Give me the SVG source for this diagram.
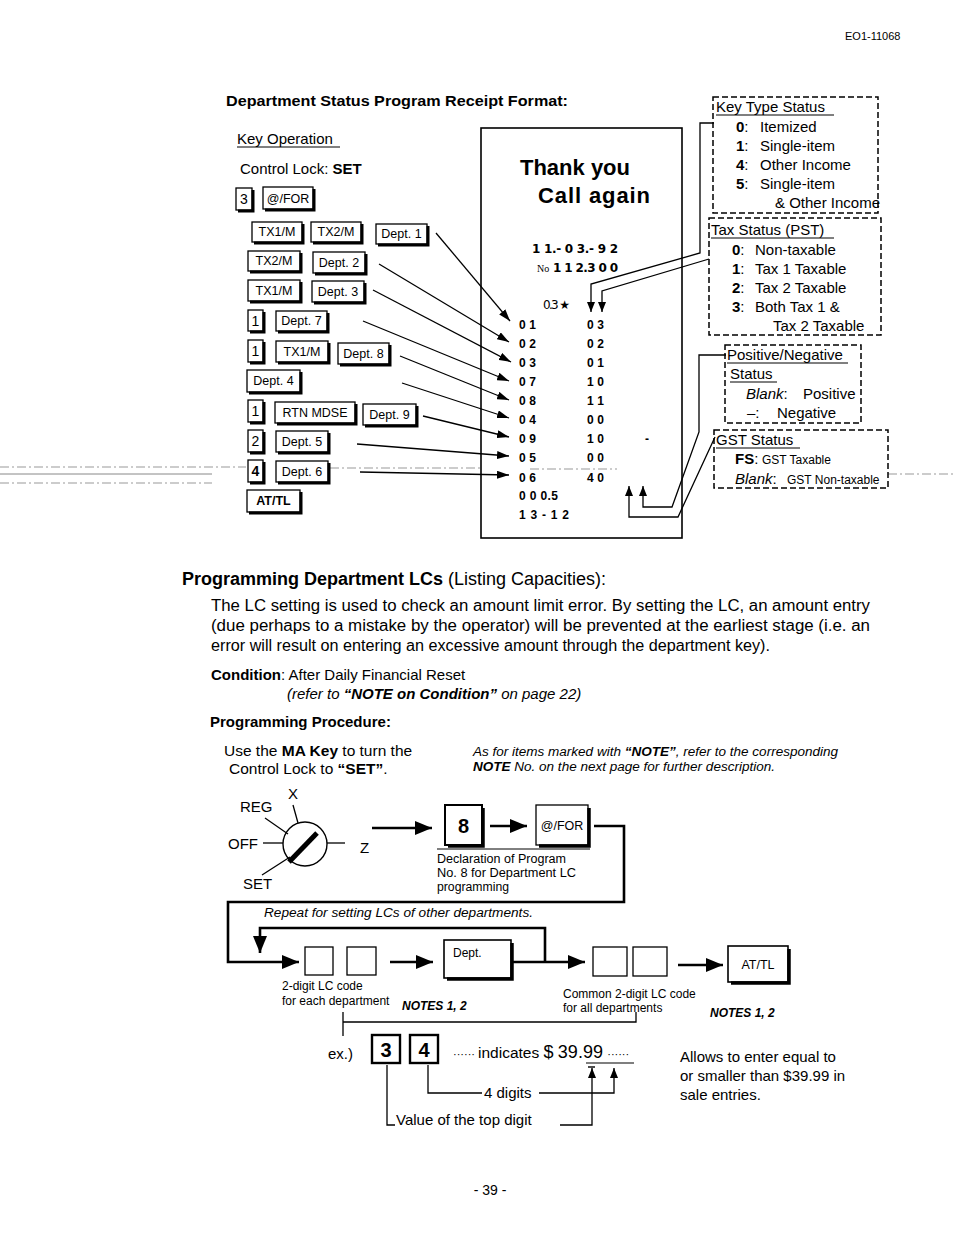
<svg xmlns="http://www.w3.org/2000/svg" width="954" height="1239" viewBox="0 0 954 1239">
<style>
text{font-family:"Liberation Sans",Arial,sans-serif;fill:#000}
.b{font-weight:bold}
.i{font-style:italic}
.k{font-size:12.5px;text-anchor:middle}
.kd{font-size:14px;text-anchor:middle}
.kb{fill:#fff;stroke:#000;stroke-width:1.3}
.ks{fill:none;stroke:#000;stroke-width:3}
.ln{fill:none;stroke:#000;stroke-width:1.3}
.tk{fill:none;stroke:#000;stroke-width:2.6}
.ds{fill:none;stroke:#000;stroke-width:1.5;stroke-dasharray:6 3}
.rc{font-family:"DejaVu Sans",sans-serif;font-weight:bold;font-size:12px}
.s15{font-size:15px}
.art{fill:none;stroke:#999;stroke-width:1;stroke-dasharray:9 3 2 3}
</style>
<defs>
<marker id="ah" markerWidth="13" markerHeight="8" refX="12" refY="4" orient="auto" markerUnits="userSpaceOnUse"><path d="M0,0 L12,4 L0,8 z" fill="#000"/></marker>
<marker id="ah2" markerWidth="11" markerHeight="8" refX="10" refY="4" orient="auto" markerUnits="userSpaceOnUse"><path d="M0,0 L10,4 L0,8 z" fill="#000"/></marker>
<marker id="ahb" markerWidth="18" markerHeight="14" refX="17" refY="7" orient="auto" markerUnits="userSpaceOnUse"><path d="M0,0 L17,7 L0,14 z" fill="#000"/></marker>
</defs>
<rect width="954" height="1239" fill="#fff"/>

<!-- scan artifacts -->
<g id="artifacts">
<line class="art" x1="0" y1="467" x2="246" y2="467"/>
<line x1="0" y1="474" x2="212" y2="474" stroke="#888" stroke-width="1"/>
<line class="art" x1="0" y1="483" x2="212" y2="483"/>
<line class="art" x1="330" y1="468" x2="480" y2="468"/>
<line class="art" x1="530" y1="469" x2="617" y2="469"/>
<line class="art" x1="888" y1="474" x2="954" y2="474"/>
</g>

<text x="845" y="40" style="font-size:11px">EO1-11068</text>

<text x="226" y="106" class="b" style="font-size:14.5px" textLength="342" lengthAdjust="spacingAndGlyphs">Department Status Program Receipt Format:</text>
<text x="237" y="144" class="s15">Key Operation</text>
<line x1="237" y1="147" x2="340" y2="147" stroke="#000" stroke-width="1"/>
<text x="240" y="174" class="s15">Control Lock: <tspan class="b">SET</tspan></text>

<!-- keys -->
<g id="keys">
<g id="k3"><rect class="kb" x="236" y="188" width="16" height="22"/><path class="ks" d="M253,190 V211 H238"/><text class="kd" x="244" y="204">3</text></g>
<g id="kfor"><rect class="kb" x="263" y="187" width="50" height="22"/><path class="ks" d="M314,189 V210 H265"/><text class="k" x="288" y="203">@/FOR</text></g>
<g id="r1a"><rect class="kb" x="252" y="222" width="50" height="20"/><path class="ks" d="M303,224 V243 H254"/><text class="k" x="277" y="236">TX1/M</text></g>
<g id="r1b"><rect class="kb" x="311" y="222" width="50" height="20"/><path class="ks" d="M362,224 V243 H313"/><text class="k" x="336" y="236">TX2/M</text></g>
<g id="r1c"><rect class="kb" x="376" y="224" width="51" height="20"/><path class="ks" d="M428,226 V245 H378"/><text class="k" x="401.5" y="238">Dept. 1</text></g>
<g id="r2a"><rect class="kb" x="248" y="251" width="52" height="20"/><path class="ks" d="M301,253 V272 H250"/><text class="k" x="274" y="265">TX2/M</text></g>
<g id="r2b"><rect class="kb" x="313" y="252" width="52" height="21"/><path class="ks" d="M366,254 V274 H315"/><text class="k" x="339" y="266.5">Dept. 2</text></g>
<g id="r3a"><rect class="kb" x="248" y="280" width="52" height="21"/><path class="ks" d="M301,282 V302 H250"/><text class="k" x="274" y="294.5">TX1/M</text></g>
<g id="r3b"><rect class="kb" x="312" y="281" width="52" height="21"/><path class="ks" d="M365,283 V303 H314"/><text class="k" x="338" y="295.5">Dept. 3</text></g>
<g id="r4a"><rect class="kb" x="248" y="310" width="15" height="21"/><path class="ks" d="M264,312 V332 H250"/><text class="kd" x="255.5" y="325.5">1</text></g>
<g id="r4b"><rect class="kb" x="276" y="311" width="51" height="20"/><path class="ks" d="M328,313 V332 H278"/><text class="k" x="301.5" y="325">Dept. 7</text></g>
<g id="r5a"><rect class="kb" x="248" y="340" width="15" height="22"/><path class="ks" d="M264,342 V363 H250"/><text class="kd" x="255.5" y="356">1</text></g>
<g id="r5b"><rect class="kb" x="276" y="341" width="52" height="21"/><path class="ks" d="M329,343 V363 H278"/><text class="k" x="302" y="355.5">TX1/M</text></g>
<g id="r5c"><rect class="kb" x="338" y="343" width="51" height="21"/><path class="ks" d="M390,345 V365 H340"/><text class="k" x="363.5" y="357.5">Dept. 8</text></g>
<g id="r6"><rect class="kb" x="247" y="370" width="53" height="22"/><path class="ks" d="M301,372 V393 H249"/><text class="k" x="273.5" y="385">Dept. 4</text></g>
<g id="r7a"><rect class="kb" x="248" y="400" width="15" height="22"/><path class="ks" d="M264,402 V423 H250"/><text class="kd" x="255.5" y="416">1</text></g>
<g id="r7b"><rect class="kb" x="275" y="402" width="80" height="21"/><path class="ks" d="M356,404 V424 H277"/><text class="k" x="315" y="416.5">RTN MDSE</text></g>
<g id="r7c"><rect class="kb" x="363" y="404" width="53" height="21"/><path class="ks" d="M417,406 V426 H365"/><text class="k" x="389.5" y="418.5">Dept. 9</text></g>
<g id="r8a"><rect class="kb" x="248" y="430" width="15" height="22"/><path class="ks" d="M264,432 V453 H250"/><text class="kd" x="255.5" y="446">2</text></g>
<g id="r8b"><rect class="kb" x="276" y="431" width="52" height="21"/><path class="ks" d="M329,433 V453 H278"/><text class="k" x="302" y="445.5">Dept. 5</text></g>
<g id="r9a"><rect class="kb" x="248" y="460" width="15" height="22"/><path class="ks" d="M264,462 V483 H250"/><text class="kd b" x="255.5" y="476">4</text></g>
<g id="r9b"><rect class="kb" x="276" y="461" width="52" height="21"/><path class="ks" d="M329,463 V483 H278"/><text class="k" x="302" y="475.5">Dept. 6</text></g>
<g id="r10"><rect class="kb" x="247" y="490" width="53" height="22"/><path class="ks" d="M301,492 V513 H249"/><text class="k b" x="273.5" y="505">AT/TL</text></g>
</g>

<!-- receipt -->
<g id="receipt">
<rect x="481" y="128" width="201" height="410" fill="none" stroke="#000" stroke-width="1.6"/>
<text x="520" y="175" class="b" style="font-size:22px" textLength="110" lengthAdjust="spacingAndGlyphs">Thank you</text>
<text x="538" y="203" class="b" style="font-size:22px" textLength="112">Call  again</text>
<text x="532" y="253" class="rc" textLength="86">1 1.- 0 3.- 9 2</text>
<text x="537" y="272" style="font-family:'Liberation Serif',serif;font-size:10px">No</text>
<text x="553" y="272" class="rc" textLength="65">1 1 2.3 0 0</text>
<text x="543" y="309" class="rc" style="font-weight:normal" textLength="27">0.3 ★</text>
<g class="rc">
<text x="519" y="329" textLength="17">0 1</text><text x="587" y="329" textLength="17">0 3</text>
<text x="519" y="348" textLength="17">0 2</text><text x="587" y="348" textLength="17">0 2</text>
<text x="519" y="367" textLength="17">0 3</text><text x="587" y="367" textLength="17">0 1</text>
<text x="519" y="386" textLength="17">0 7</text><text x="587" y="386" textLength="17">1 0</text>
<text x="519" y="405" textLength="17">0 8</text><text x="587" y="405" textLength="17">1 1</text>
<text x="519" y="424" textLength="17">0 4</text><text x="587" y="424" textLength="17">0 0</text>
<text x="519" y="443" textLength="17">0 9</text><text x="587" y="443" textLength="17">1 0</text>
<text x="645" y="443">-</text>
<text x="519" y="462" textLength="17">0 5</text><text x="587" y="462" textLength="17">0 0</text>
<text x="519" y="482" textLength="17">0 6</text><text x="587" y="482" textLength="17">4 0</text>
<text x="519" y="500" textLength="39">0 0 0.5</text>
<text x="519" y="519" textLength="50">1 3 - 1 2</text>
</g>
</g>

<!-- status boxes -->
<g id="keytype">
<rect class="ds" x="713" y="97" width="165" height="116"/>
<text x="716" y="112" class="s15">Key Type Status</text>
<line x1="716" y1="115" x2="834" y2="115" stroke="#000" stroke-width="1"/>
<text x="736" y="132" class="s15"><tspan class="b">0</tspan>:  <tspan x="760">Itemized</tspan></text>
<text x="736" y="151" class="s15"><tspan class="b">1</tspan>:  <tspan x="760">Single-item</tspan></text>
<text x="736" y="170" class="s15"><tspan class="b">4</tspan>:  <tspan x="760">Other Income</tspan></text>
<text x="736" y="189" class="s15"><tspan class="b">5</tspan>:  <tspan x="760">Single-item</tspan></text>
<text x="775" y="208" class="s15">&amp; Other Income</text>
</g>
<g id="taxstatus">
<rect class="ds" x="709" y="218" width="172" height="117"/>
<text x="711" y="235" class="s15">Tax Status (PST)</text>
<line x1="711" y1="238" x2="834" y2="238" stroke="#000" stroke-width="1"/>
<text x="732" y="255" class="s15"><tspan class="b">0</tspan>:  <tspan x="755">Non-taxable</tspan></text>
<text x="732" y="274" class="s15"><tspan class="b">1</tspan>:  <tspan x="755">Tax 1 Taxable</tspan></text>
<text x="732" y="293" class="s15"><tspan class="b">2</tspan>:  <tspan x="755">Tax 2 Taxable</tspan></text>
<text x="732" y="312" class="s15"><tspan class="b">3</tspan>:  <tspan x="755">Both Tax 1 &amp;</tspan></text>
<text x="773" y="331" class="s15">Tax 2 Taxable</text>
</g>
<g id="posneg">
<rect class="ds" x="725" y="345" width="136" height="78"/>
<text x="727" y="360" class="s15">Positive/Negative</text>
<line x1="727" y1="363" x2="848" y2="363" stroke="#000" stroke-width="1"/>
<text x="730" y="379" class="s15">Status</text>
<line x1="730" y1="382" x2="777" y2="382" stroke="#000" stroke-width="1"/>
<text x="746" y="399" class="s15"><tspan class="i">Blank</tspan>:  <tspan x="803">Positive</tspan></text>
<text x="747" y="418" class="s15">–:  <tspan x="777">Negative</tspan></text>
</g>
<g id="gst">
<rect class="ds" x="714" y="430" width="174" height="58"/>
<text x="716" y="445" class="s15">GST Status</text>
<line x1="716" y1="448" x2="800" y2="448" stroke="#000" stroke-width="1"/>
<text x="735" y="464" class="s15 b">FS<tspan style="font-weight:normal">:</tspan></text>
<text x="762" y="464" style="font-size:12px">GST Taxable</text>
<text x="735" y="484" class="s15"><tspan class="i">Blank</tspan>:</text>
<text x="787" y="484" style="font-size:12px">GST Non-taxable</text>
</g>

<!-- connectors -->
<g id="connectors">
<g class="ln" marker-end="url(#ah)">
<line x1="436" y1="233" x2="510" y2="321"/>
<line x1="379" y1="264" x2="509" y2="342"/>
<line x1="373" y1="290" x2="511" y2="362"/>
<line x1="363" y1="321" x2="509" y2="381"/>
<line x1="400" y1="356" x2="509" y2="400"/>
<line x1="402" y1="383" x2="509" y2="418"/>
<line x1="423" y1="416" x2="509" y2="437"/>
<line x1="357" y1="444" x2="509" y2="456"/>
<line x1="360" y1="472" x2="509" y2="475"/>
</g>
<g class="ln" marker-end="url(#ah2)">
<path d="M714,123 H700 V253 L591,284 V312"/>
<path d="M709,259 L602,291 V312"/>
<path d="M726,355 H699 V432 L672,507 H643 V486"/>
<path d="M715,437 L678,517 H629 V486"/>
</g>

<!-- procedure connectors -->
<path class="tk" d="M372,828 H432" marker-end="url(#ahb)"/>
<path class="tk" d="M490,826 H527" marker-end="url(#ahb)"/>
<path class="tk" d="M594,826 H624 V902 H228 V962 H299" marker-end="url(#ahb)"/>
<path class="tk" d="M545,962 V928 H260 V953" marker-end="url(#ahb)"/>
<path class="tk" d="M512,962 H585" marker-end="url(#ahb)"/>
<path class="tk" d="M390,962 H433" marker-end="url(#ahb)"/>
<path class="tk" d="M678,965 H723" marker-end="url(#ahb)"/>
<path class="ln" d="M343,1012 V1036 M343,1022 H636 V1012"/>
<path class="ln" d="M387,1065 V1125 H395"/>
<path class="ln" d="M428,1065 V1093 H482"/>
<path class="ln" d="M560,1125 H592 V1068" marker-end="url(#ah2)"/>
<path class="ln" d="M539,1093 H614 V1068" marker-end="url(#ah2)"/>
</g>

<!-- LCs section -->
<text x="182" y="585" style="font-size:18px"><tspan class="b">Programming Department LCs</tspan> (Listing Capacities):</text>
<text x="211" y="611" style="font-size:16px" textLength="659" lengthAdjust="spacingAndGlyphs">The LC setting is used to check an amount limit error.  By setting the LC, an amount entry</text>
<text x="211" y="631" style="font-size:16px" textLength="659" lengthAdjust="spacingAndGlyphs">(due perhaps to a mistake by the operator) will be prevented at the earliest stage (i.e. an</text>
<text x="211" y="651" style="font-size:16px" textLength="559" lengthAdjust="spacingAndGlyphs">error will result on entering an excessive amount through the department key).</text>
<text x="211" y="680" style="font-size:15px"><tspan class="b">Condition</tspan>: After Daily Financial Reset</text>
<text x="287" y="699" class="i" style="font-size:15px">(refer to <tspan class="b">“NOTE on Condition”</tspan> on page 22)</text>
<text x="210" y="727" class="b" style="font-size:15px">Programming Procedure:</text>
<text x="224" y="756" style="font-size:15.5px">Use the <tspan class="b">MA Key</tspan> to turn the</text>
<text x="229" y="774" style="font-size:15.5px">Control Lock to <tspan class="b">“SET”</tspan>.</text>
<text x="473" y="756" class="i" style="font-size:12.5px" textLength="365" lengthAdjust="spacingAndGlyphs">As for items marked with <tspan class="b">“NOTE”</tspan>, refer to the corresponding</text>
<text x="473" y="771" class="i" style="font-size:12.5px" textLength="302" lengthAdjust="spacingAndGlyphs"><tspan class="b">NOTE</tspan> No. on the next page for further description.</text>

<!-- control lock -->
<g id="lock">
<circle cx="305" cy="844" r="22" fill="none" stroke="#000" stroke-width="1.4"/>
<line class="ln" x1="293" y1="805" x2="298" y2="823"/>
<line class="ln" x1="265" y1="818" x2="288" y2="834"/>
<line class="ln" x1="263" y1="843" x2="283" y2="843"/>
<line class="ln" x1="327" y1="843" x2="345" y2="843"/>
<line class="ln" x1="262" y1="875" x2="290" y2="857"/>
<line x1="289" y1="862" x2="317" y2="833" stroke="#000" stroke-width="5"/>
<text x="288" y="799" style="font-size:15px">X</text>
<text x="240" y="812" style="font-size:15px">REG</text>
<text x="228" y="849" style="font-size:15px">OFF</text>
<text x="360" y="853" style="font-size:15px">Z</text>
<text x="243" y="889" style="font-size:15px">SET</text>
</g>

<g id="k8"><rect class="kb" x="445" y="805" width="37" height="40" style="stroke-width:2"/><path class="ks" d="M483,808 V846 H448" style="stroke-width:3.5"/><text x="463.5" y="833" class="b" style="font-size:20px;text-anchor:middle">8</text></g>
<g id="kfor2"><rect class="kb" x="536" y="805" width="52" height="40"/><path class="ks" d="M589,808 V846 H539" style="stroke-width:3.5"/><text class="k" x="562" y="830">@/FOR</text></g>
<line x1="437" y1="849" x2="590" y2="849" stroke="#000" stroke-width="1"/>
<text x="437" y="863" style="font-size:12px" textLength="129" lengthAdjust="spacingAndGlyphs">Declaration of Program</text>
<text x="437" y="877" style="font-size:12px" textLength="139" lengthAdjust="spacingAndGlyphs">No. 8 for Department LC</text>
<text x="437" y="891" style="font-size:12px" textLength="72" lengthAdjust="spacingAndGlyphs">programming</text>

<text x="264" y="917" class="i" style="font-size:12.5px" textLength="269" lengthAdjust="spacingAndGlyphs">Repeat for setting LCs of other departments.</text>

<g id="lc1"><rect class="kb" x="305" y="947" width="28" height="28"/><rect class="kb" x="347" y="947" width="29" height="28"/></g>
<g id="kdept"><rect class="kb" x="444" y="940" width="67" height="38" style="stroke-width:1.6"/><path class="ks" d="M512,943 V979 H447" style="stroke-width:3.5"/><text x="453" y="957" style="font-size:12px">Dept.</text></g>
<g id="lc2"><rect class="kb" x="593" y="947" width="34" height="29"/><rect class="kb" x="633" y="947" width="34" height="29"/></g>
<g id="katl"><rect class="kb" x="728" y="946" width="60" height="36" style="stroke-width:1.6"/><path class="ks" d="M789,949 V983 H731" style="stroke-width:3.5"/><text class="k" x="758" y="969">AT/TL</text></g>

<text x="282" y="990" style="font-size:12px">2-digit LC code</text>
<text x="282" y="1005" style="font-size:12px">for each department</text>
<text x="402" y="1010" class="b i" style="font-size:12px">NOTES 1, 2</text>
<text x="563" y="998" style="font-size:12px">Common 2-digit LC code</text>
<text x="563" y="1012" style="font-size:12px">for all departments</text>
<text x="710" y="1017" class="b i" style="font-size:12px">NOTES 1, 2</text>

<!-- example -->
<text x="328" y="1059" style="font-size:15px">ex.)</text>
<g id="ex3"><rect x="372" y="1035" width="28" height="28" fill="#fff" stroke="#000" stroke-width="2.4"/><text x="386" y="1057" class="b" style="font-size:20px;text-anchor:middle">3</text></g>
<g id="ex4"><rect x="410" y="1035" width="28" height="28" fill="#fff" stroke="#000" stroke-width="2.4"/><text x="424" y="1057" class="b" style="font-size:20px;text-anchor:middle">4</text></g>
<text x="453" y="1058" style="font-size:15.5px"><tspan style="font-size:11px">······ </tspan> indicates  <tspan style="font-size:18px">$</tspan> <tspan style="font-size:18px">39.99</tspan> <tspan style="font-size:11px"> ······</tspan></text>
<line x1="586" y1="1063" x2="634" y2="1063" stroke="#000" stroke-width="1.2"/>
<line x1="588" y1="1067" x2="595" y2="1067" stroke="#000" stroke-width="1.4"/>
<text x="680" y="1062" style="font-size:15px">Allows to enter equal to</text>
<text x="680" y="1081" style="font-size:15px">or smaller than $39.99 in</text>
<text x="680" y="1100" style="font-size:15px">sale entries.</text>
<text x="484" y="1098" style="font-size:15px">4 digits</text>
<text x="396" y="1125" style="font-size:15px">Value of the top digit</text>

<text x="490" y="1195" style="font-size:14px;text-anchor:middle">- 39 -</text>
</svg>
